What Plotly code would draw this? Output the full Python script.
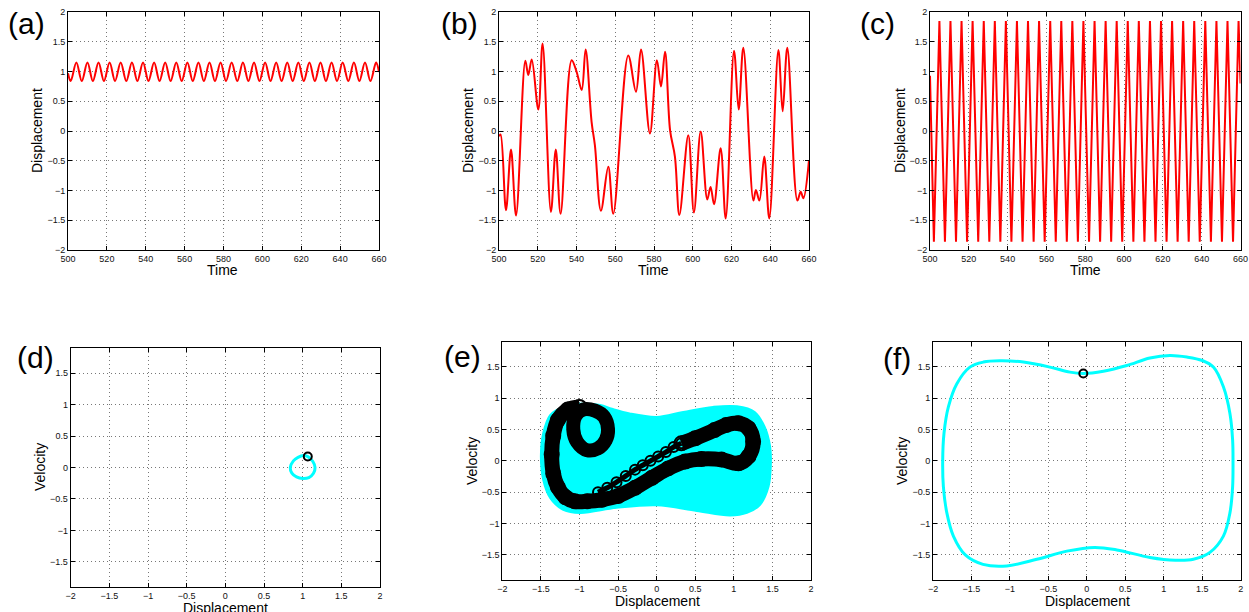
import plotly.graph_objects as go

# ---------------- data ----------------
# (a) periodic small orbit: displacement vs time (extrema)
ta = [500.0, 501.4, 504.3, 507.1, 510.0, 512.8, 515.7, 518.5, 521.4, 524.2, 527.1,
      530.0, 532.9, 535.7, 538.6, 541.4, 544.3, 547.1, 550.0, 552.8, 555.7,
      558.5, 561.4, 564.2, 567.1, 569.9, 572.8, 575.6, 578.5, 581.3, 584.2,
      587.1, 590.0, 592.8, 595.7, 598.5, 601.4, 604.2, 607.1, 609.9, 612.8,
      615.6, 618.5, 621.3, 624.2, 627.0, 629.9, 632.7, 635.6, 638.4, 641.3,
      644.2, 647.1, 649.9, 652.8, 655.6, 658.5, 660.0]
xa = [0.97, 0.84, 1.15, 0.84, 1.15, 0.84, 1.15, 0.84, 1.15, 0.84, 1.15,
      0.84, 1.15, 0.84, 1.15, 0.84, 1.15, 0.84, 1.15, 0.84, 1.15,
      0.84, 1.15, 0.84, 1.15, 0.84, 1.15, 0.84, 1.15, 0.84, 1.15,
      0.84, 1.15, 0.84, 1.15, 0.84, 1.15, 0.84, 1.15, 0.84, 1.15,
      0.84, 1.15, 0.84, 1.15, 0.84, 1.15, 0.84, 1.15, 0.84, 1.15,
      0.84, 1.15, 0.84, 1.15, 0.84, 1.15, 0.99]

# (b) chaotic response
tb = [500.0, 500.8, 503.6, 506.2, 508.8, 513.6, 515.1, 516.9, 520.3, 522.5,
      526.8, 529.3, 531.8, 537.5, 540.1, 542.7, 544.7, 547.8, 549.5, 552.6,
      556.4, 559.0, 566.7, 570.7, 573.3, 577.9, 581.5, 583.6, 585.7, 588.3,
      590.8, 593.1, 597.7, 600.6, 604.1, 607.5, 609.2, 611.0, 614.4, 617.0,
      621.3, 623.7, 626.1, 631.3, 632.6, 634.4, 636.9, 639.5, 644.2, 646.4,
      648.8, 654.0, 655.7, 657.1, 660.0]
xb = [-0.09, -0.06, -1.33, -0.31, -1.42, 1.18, 0.94, 1.20, 0.36, 1.47,
      -1.36, -0.31, -1.39, 1.19, 0.99, 0.69, 1.37, 0.15, -0.24, -1.34,
      -0.60, -1.39, 1.27, 0.66, 1.37, -0.04, 1.19, 0.75, 1.33, 0.01,
      -0.43, -1.41, -0.07, -1.37, -0.01, -1.15, -0.94, -1.23, -0.29, -1.47,
      1.35, 0.36, 1.40, -1.17, -0.99, -1.17, -0.43, -1.47, 1.36, 0.33,
      1.40, -1.17, -1.02, -1.13, -0.49]

# (c) periodic large orbit
tc = [500.0, 502.0, 504.85, 507.7, 510.55, 513.4, 516.25, 519.1, 521.95, 524.85,
      527.7, 530.55, 533.4, 536.25, 539.1, 541.95, 544.8, 547.7, 550.5, 553.4,
      556.2, 559.1, 561.95, 564.8, 567.65, 570.5, 573.35, 576.2, 579.05, 581.95,
      584.8, 587.65, 590.5, 593.35, 596.2, 599.05, 601.9, 604.8, 607.6, 610.5,
      613.35, 616.2, 619.05, 621.9, 624.75, 627.6, 630.45, 633.3, 636.15, 639.0,
      641.85, 644.75, 647.6, 650.45, 653.3, 656.15, 659.0, 660.0]
xc = [0.93, -1.86, 1.85, -1.86, 1.85, -1.86, 1.85, -1.86, 1.85, -1.86,
      1.85, -1.86, 1.85, -1.86, 1.85, -1.86, 1.85, -1.86, 1.85, -1.86,
      1.85, -1.86, 1.85, -1.86, 1.85, -1.86, 1.85, -1.86, 1.85, -1.86,
      1.85, -1.86, 1.85, -1.86, 1.85, -1.86, 1.85, -1.86, 1.85, -1.86,
      1.85, -1.86, 1.85, -1.86, 1.85, -1.86, 1.85, -1.86, 1.85, -1.86,
      1.85, -1.86, 1.85, -1.86, 1.85, -1.86, 1.85, 0.80]

# (d) small phase-space loop
dx = [1.066, 1.01, 0.94, 0.88, 0.84, 0.86, 0.92, 1.0, 1.08, 1.14, 1.16, 1.13, 1.066]
dv = [0.174, 0.19, 0.16, 0.105, 0.0, -0.09, -0.15, -0.175, -0.16, -0.09, 0.0, 0.1, 0.174]
d_pt_x = [1.066]
d_pt_v = [0.174]

# (e) chaotic attractor: envelope of trajectory and Poincare section bands
e_env_x = [-0.73, -0.58, -0.35, 0.0, 0.345, 0.73, 1.04, 1.27, 1.40, 1.47, 1.48, 1.45,
           1.34, 1.17, 0.95, 0.52, 0.0, -0.52, -0.99, -1.21, -1.38, -1.47, -1.50,
           -1.47, -1.38, -1.21, -0.99, -0.73]
e_env_v = [0.89, 0.83, 0.755, 0.70, 0.78, 0.86, 0.87, 0.78, 0.54, 0.23, -0.04, -0.41,
           -0.70, -0.83, -0.87, -0.80, -0.71, -0.75, -0.83, -0.78, -0.59, -0.30, 0.07,
           0.44, 0.73, 0.86, 0.91, 0.89]
e_loop_x = [-0.63, -0.68, -0.80, -0.95, -1.05, -1.08, -1.03, -0.90, -0.76, -0.66, -0.63]
e_loop_v = [0.50, 0.70, 0.80, 0.82, 0.72, 0.50, 0.30, 0.17, 0.20, 0.33, 0.50]
e_band_x = [-1.00, -1.15, -1.28, -1.34, -1.36, -1.34, -1.28, -1.18, -1.06, -0.90,
            -0.71, -0.50, -0.28, -0.06, 0.15, 0.37, 0.58, 0.84, 1.06, 1.19,
            1.25, 1.19, 1.06, 0.90, 0.75, 0.50, 0.32]
e_band_v = [0.86, 0.82, 0.65, 0.40, 0.10, -0.20, -0.42, -0.58, -0.645, -0.645,
            -0.62, -0.56, -0.43, -0.27, -0.12, -0.01, 0.03, 0.02, -0.04, 0.07,
            0.31, 0.52, 0.60, 0.57, 0.49, 0.36, 0.28]
e_arm_x = [0.32, 0.22, 0.12, 0.02, -0.08, -0.18, -0.28, -0.40, -0.52, -0.64, -0.76]
e_arm_v = [0.28, 0.22, 0.14, 0.07, 0.0, -0.07, -0.14, -0.24, -0.34, -0.43, -0.50]

# (f) large phase-space loop
fx = [-0.046, 0.215, 0.52, 0.82, 1.08, 1.3, 1.5, 1.645, 1.775, 1.86, 1.895, 1.90,
      1.895, 1.86, 1.775, 1.6, 1.385, 1.15, 0.82, 0.39, 0.1, -0.26, -0.65, -1.04,
      -1.35, -1.58, -1.735, -1.82, -1.865, -1.874, -1.857, -1.80, -1.69, -1.52,
      -1.345, -1.13, -0.825, -0.48, -0.22, -0.046]
fv = [1.394, 1.43, 1.52, 1.64, 1.68, 1.655, 1.60, 1.495, 1.18, 0.755, 0.33, 0.0,
      -0.41, -0.83, -1.2, -1.46, -1.57, -1.585, -1.54, -1.42, -1.38, -1.44, -1.57, -1.675,
      -1.65, -1.5, -1.2, -0.83, -0.41, 0.0, 0.44, 0.86, 1.23, 1.495,
      1.575, 1.595, 1.575, 1.495, 1.415, 1.394]
f_pt_x = [-0.046]
f_pt_v = [1.394]

time_ticks = [500, 520, 540, 560, 580, 600, 620, 640, 660]
disp_ticks = [-2, -1.5, -1, -0.5, 0, 0.5, 1, 1.5, 2]
vel_ticks = [-1.5, -1, -0.5, 0, 0.5, 1, 1.5]
panel_labels = ["(a)", "(b)", "(c)", "(d)", "(e)", "(f)"]

# ---------------- figure ----------------
W, H = 1249, 612
FONT = "Liberation Sans, Arial, Helvetica, sans-serif"
RED = "#ff0000"
CYAN = "#00ffff"


def px_x(p):
    return p / W


def px_y(p):
    return 1 - p / H


fig = go.Figure()

# axis boxes in pixels: (left, right, top, bottom)
boxes = [
    (68, 379, 12, 250),
    (499, 809, 12, 250),
    (930, 1240.5, 12, 250),
    (70.7, 380, 348, 587),
    (502.3, 811, 341.7, 580),
    (933, 1240.7, 341.7, 580),
]

for i, (l, r, t, b) in enumerate(boxes):
    n = i + 1
    xa_name = "xaxis" if n == 1 else f"xaxis{n}"
    ya_name = "yaxis" if n == 1 else f"yaxis{n}"
    common = dict(
        showline=True, linecolor="black", linewidth=1, mirror="ticks",
        ticks="inside", ticklen=4, tickcolor="black", tickwidth=1,
        showgrid=True, gridcolor="#777777", griddash="1px,3px", gridwidth=1,
        zeroline=False, tickfont=dict(family=FONT, size=9, color="#111"),
        fixedrange=True, automargin=False,
    )
    if n <= 3:
        xax = dict(domain=[px_x(l), px_x(r)], range=[500, 660], tickvals=time_ticks,
                   anchor=f"y{'' if n == 1 else n}", **common)
        yax = dict(domain=[px_y(b), px_y(t)], range=[-2, 2], tickvals=disp_ticks,
                   anchor=f"x{'' if n == 1 else n}", **common)
    else:
        xax = dict(domain=[px_x(l), px_x(r)], range=[-2, 2], tickvals=disp_ticks,
                   anchor=f"y{n}", **common)
        yax = dict(domain=[px_y(b), px_y(t)], range=[-1.9, 1.9], tickvals=vel_ticks,
                   anchor=f"x{n}", **common)
    fig.layout[xa_name] = xax
    fig.layout[ya_name] = yax

# top row
fig.add_trace(go.Scatter(x=ta, y=xa, mode="lines", line=dict(color=RED, width=2, shape="spline"),
                         xaxis="x", yaxis="y"))
fig.add_trace(go.Scatter(x=tb, y=xb, mode="lines", line=dict(color=RED, width=2, shape="spline"),
                         xaxis="x2", yaxis="y2"))
fig.add_trace(go.Scatter(x=tc, y=xc, mode="lines", line=dict(color=RED, width=2),
                         xaxis="x3", yaxis="y3"))

# (d)
fig.add_trace(go.Scatter(x=dx, y=dv, mode="lines", line=dict(color=CYAN, width=3, shape="spline"),
                         xaxis="x4", yaxis="y4"))
fig.add_trace(go.Scatter(x=d_pt_x, y=d_pt_v, mode="markers",
                         marker=dict(symbol="circle-open", size=8, color="black", line=dict(width=2)),
                         xaxis="x4", yaxis="y4"))

# (e)
fig.add_trace(go.Scatter(x=e_env_x, y=e_env_v, mode="lines", fill="toself", fillcolor=CYAN,
                         line=dict(color=CYAN, width=2, shape="spline"),
                         xaxis="x5", yaxis="y5"))
fig.add_trace(go.Scatter(x=e_loop_x, y=e_loop_v, mode="lines+markers",
                         line=dict(color="black", width=14, shape="spline"),
                         marker=dict(symbol="circle-open", size=11, color="black", line=dict(width=2)),
                         xaxis="x5", yaxis="y5"))
fig.add_trace(go.Scatter(x=e_band_x, y=e_band_v, mode="lines+markers",
                         line=dict(color="black", width=15, shape="spline"),
                         marker=dict(symbol="circle-open", size=14, color="black", line=dict(width=2)),
                         xaxis="x5", yaxis="y5"))
fig.add_trace(go.Scatter(x=e_arm_x, y=e_arm_v, mode="lines+markers",
                         line=dict(color="black", width=5, shape="spline"),
                         marker=dict(symbol="circle-open", size=10, color="black", line=dict(width=2)),
                         xaxis="x5", yaxis="y5"))

# (f)
fig.add_trace(go.Scatter(x=fx, y=fv, mode="lines", line=dict(color=CYAN, width=3, shape="spline"),
                         xaxis="x6", yaxis="y6"))
fig.add_trace(go.Scatter(x=f_pt_x, y=f_pt_v, mode="markers",
                         marker=dict(symbol="circle-open", size=8, color="black", line=dict(width=2)),
                         xaxis="x6", yaxis="y6"))

# text annotations (axis titles and panel letters), positioned in pixels
ann = []


def add_text(text, x, y, size, angle=0):
    ann.append(dict(text=text, x=px_x(x), y=px_y(y), xref="paper", yref="paper",
                    xanchor="center", yanchor="middle", showarrow=False, textangle=angle,
                    font=dict(family=FONT, size=size, color="black")))


for x in (222, 653, 1085):
    add_text("Time", x, 270, 14)
for x in (37, 468, 900):
    add_text("Displacement", x, 131, 14, -90)
add_text("Velocity", 40, 467, 14, -90)
add_text("Velocity", 472, 461, 14, -90)
add_text("Velocity", 902, 461, 14, -90)
add_text("Displacement", 225, 608, 14)
add_text("Displacement", 657, 601, 14)
add_text("Displacement", 1087, 601, 14)

label_pos = [(26, 24), (459, 24), (877, 24), (35, 357), (462, 356), (897, 358)]
for lab, (x, y) in zip(panel_labels, label_pos):
    add_text(lab, x, y, 30)

fig.update_layout(
    template="none",
    width=W, height=H, margin=dict(l=0, r=0, t=0, b=0),
    paper_bgcolor="white", plot_bgcolor="white", showlegend=False,
    annotations=ann, font=dict(family=FONT),
)

# remove the browser's default page margin so the figure fills the window exactly
fig.write_html(
    "out.html",
    config={"displayModeBar": False},
    post_script="document.body.style.margin='0';document.body.style.overflow='hidden';",
)
